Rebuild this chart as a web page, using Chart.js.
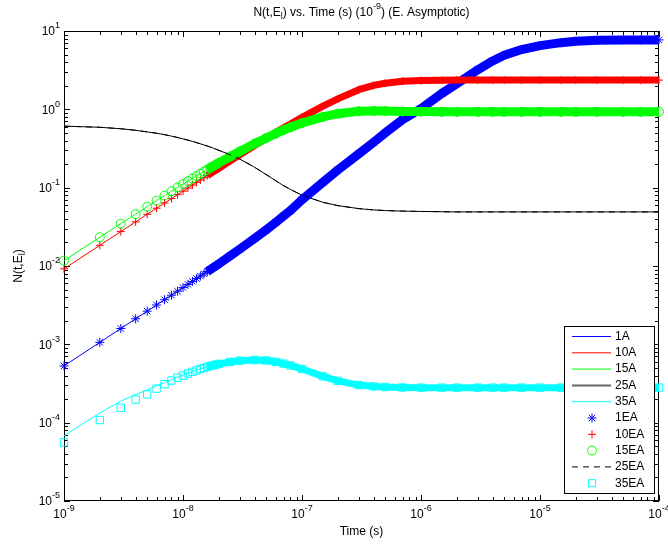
<!DOCTYPE html>
<html>
<head>
<meta charset="utf-8">
<script src="https://cdn.jsdelivr.net/npm/chart.js@4.4.0/dist/chart.umd.min.js"></script>
<style>
  html, body { margin: 0; padding: 0; background: #fff; overflow: hidden; }
</style>
</head>
<body>
<canvas id="chart" width="668" height="545"></canvas>
<script>
// sample times (ns) and N(t,E) values
const timeNs = [1, 2, 3, 4, 5, 6, 7, 8, 9, 10, 11, 12, 13, 14, 15, 16, 17, 18, 19, 20,
  25, 30, 40, 50, 60, 70, 80, 100,
  150, 200, 300, 400, 500, 700, 1000,
  1500, 2000, 3000, 4000, 5000, 7000, 10000, 15000, 20000, 30000, 50000, 70000, 100000];

const n1A = [5.3e-4, 1.06e-3, 1.59e-3, 2.12e-3, 2.65e-3, 3.18e-3, 3.71e-3, 4.24e-3, 4.77e-3, 5.3e-3,
  5.83e-3, 6.36e-3, 6.9e-3, 7.43e-3, 7.96e-3, 8.5e-3, 9.03e-3, 9.57e-3, 1.01e-2, 1.065e-2,
  1.35e-2, 1.64e-2, 2.25e-2, 2.9e-2, 3.6e-2, 4.35e-2, 5.1e-2, 7.0e-2,
  0.117, 0.168, 0.27, 0.38, 0.5, 0.74, 1.02,
  1.6, 2.12, 3.2, 4.15, 4.9, 5.8, 6.5, 7.1, 7.4, 7.6, 7.7, 7.7, 7.7];

const n10A = [9.2e-3, 1.84e-2, 2.75e-2, 3.66e-2, 4.57e-2, 5.47e-2, 6.37e-2, 7.26e-2, 8.15e-2, 9.03e-2,
  9.9e-2, 0.108, 0.117, 0.125, 0.134, 0.143, 0.151, 0.16, 0.168, 0.177,
  0.22, 0.262, 0.345, 0.425, 0.505, 0.58, 0.65, 0.79,
  1.1, 1.36, 1.78, 2.02, 2.15, 2.28, 2.33,
  2.35, 2.36, 2.36, 2.36, 2.36, 2.36, 2.36, 2.36, 2.36, 2.36, 2.36, 2.36, 2.36];

const n15A = [1.17e-2, 2.33e-2, 3.47e-2, 4.6e-2, 5.72e-2, 6.83e-2, 7.92e-2, 9.0e-2, 0.1005, 0.111,
  0.121, 0.131, 0.141, 0.151, 0.161, 0.17, 0.18, 0.189, 0.198, 0.207,
  0.25, 0.29, 0.365, 0.43, 0.49, 0.545, 0.59, 0.67,
  0.8, 0.88, 0.945, 0.955, 0.95, 0.94, 0.935,
  0.93, 0.93, 0.93, 0.93, 0.93, 0.93, 0.93, 0.93, 0.93, 0.93, 0.93, 0.93, 0.93];

const n25A = [0.61, 0.59, 0.565, 0.54, 0.515, 0.495, 0.475, 0.455, 0.437, 0.42,
  0.404, 0.39, 0.376, 0.363, 0.351, 0.34, 0.329, 0.319, 0.309, 0.3,
  0.262, 0.232, 0.182, 0.147, 0.123, 0.106, 0.095, 0.08,
  0.065, 0.059, 0.054, 0.052, 0.051, 0.0502, 0.0497,
  0.0493, 0.049, 0.049, 0.049, 0.049, 0.049, 0.049, 0.049, 0.049, 0.049, 0.049, 0.049, 0.049];

const n35A = [6.8e-5, 1.33e-4, 1.88e-4, 2.28e-4, 2.62e-4, 2.95e-4, 3.25e-4, 3.55e-4, 3.8e-4, 4.05e-4,
  4.28e-4, 4.48e-4, 4.68e-4, 4.86e-4, 5.02e-4, 5.17e-4, 5.3e-4, 5.42e-4, 5.53e-4, 5.63e-4,
  5.98e-4, 6.18e-4, 6.3e-4, 6.22e-4, 5.98e-4, 5.68e-4, 5.38e-4, 4.85e-4,
  3.9e-4, 3.42e-4, 3.02e-4, 2.9e-4, 2.85e-4, 2.81e-4, 2.8e-4,
  2.8e-4, 2.8e-4, 2.8e-4, 2.8e-4, 2.8e-4, 2.8e-4, 2.8e-4, 2.8e-4, 2.8e-4, 2.8e-4, 2.8e-4, 2.8e-4, 2.8e-4];

// asymptotic series sit on top of the exact ones except 35 at early times
const n1EA = n1A;
const n10EA = n10A;
const n15EA = n15A;
const n25EA = n25A;
const n35EA = [5.6e-5, 1.08e-4, 1.55e-4, 1.97e-4, 2.3e-4, 2.72e-4, 3.1e-4, 3.45e-4, 3.75e-4, 4.0e-4,
  4.25e-4, 4.45e-4, 4.65e-4, 4.84e-4, 5.0e-4, 5.15e-4, 5.28e-4, 5.4e-4, 5.52e-4, 5.62e-4,
  5.98e-4, 6.18e-4, 6.3e-4, 6.22e-4, 5.98e-4, 5.68e-4, 5.38e-4, 4.85e-4,
  3.9e-4, 3.42e-4, 3.02e-4, 2.9e-4, 2.85e-4, 2.81e-4, 2.8e-4,
  2.8e-4, 2.8e-4, 2.8e-4, 2.8e-4, 2.8e-4, 2.8e-4, 2.8e-4, 2.8e-4, 2.8e-4, 2.8e-4, 2.8e-4, 2.8e-4, 2.8e-4];

const xTickExp = [-9, -8, -7, -6, -5, -4];
const yTickExp = [-5, -4, -3, -2, -1, 0, 1];
const seriesNames = ['1A', '10A', '15A', '25A', '35A', '1EA', '10EA', '15EA', '25EA', '35EA'];

const BLUE = '#0000ff', RED = '#ff0000', GREEN = '#00ff00', BLACK = '#000000', CYAN = '#00ffff';
const FONT = '"Liberation Sans", Arial, Helvetica, sans-serif';

const times = timeNs.map(v => v * 1e-9);
const pts = arr => arr.map((v, i) => ({ x: times[i], y: v }));

// markers merge into a solid band once they sit closer than their size
const BAND_FROM = 16e-9;

function lineSet(i, data, color, extra) {
  return Object.assign({
    label: seriesNames[i], data: pts(data), borderColor: color, borderWidth: 1,
    pointRadius: 0, fill: false, tension: 0, clip: false, order: -i
  }, extra || {});
}

function markerSet(i, data, color, style, radius, band) {
  return {
    label: seriesNames[i], data: pts(data), showLine: true,
    borderColor: color, borderWidth: band, borderJoinStyle: 'round', borderCapStyle: 'butt',
    segment: { borderColor: c => times[c.p0DataIndex] >= BAND_FROM ? color : 'rgba(0,0,0,0)' },
    pointStyle: style, pointRadius: radius, pointBorderColor: color,
    pointBackgroundColor: 'rgba(0,0,0,0)', pointBorderWidth: 1,
    fill: false, tension: 0, clip: false, order: -i
  };
}

function rich(ctx, parts, x, y, align) {
  let w = 0;
  for (const p of parts) { ctx.font = p.size + 'px ' + FONT; w += ctx.measureText(p.t).width; }
  let cx = align === 'center' ? x - w / 2 : align === 'right' ? x - w : x;
  ctx.textAlign = 'left';
  ctx.textBaseline = 'middle';
  for (const p of parts) {
    ctx.font = p.size + 'px ' + FONT;
    ctx.fillText(p.t, cx, y + (p.dy || 0));
    cx += ctx.measureText(p.t).width;
  }
}

const pow10 = e => [{ t: '10', size: 12 }, { t: String(e), size: 9, dy: -6 }];

function marker(ctx, style, x, y, r) {
  ctx.beginPath();
  if (style === 'star' || style === 'cross') {
    ctx.moveTo(x - r, y); ctx.lineTo(x + r, y);
    ctx.moveTo(x, y - r); ctx.lineTo(x, y + r);
    if (style === 'star') {
      const d = r * Math.SQRT1_2;
      ctx.moveTo(x - d, y - d); ctx.lineTo(x + d, y + d);
      ctx.moveTo(x - d, y + d); ctx.lineTo(x + d, y - d);
    }
  } else if (style === 'circle') {
    ctx.arc(x, y, r, 0, Math.PI * 2);
  } else if (style === 'rect') {
    const s = r * Math.SQRT1_2;
    ctx.rect(x - s, y - s, 2 * s, 2 * s);
  }
  ctx.stroke();
}

const legendItems = [
  { color: BLUE, width: 1 }, { color: RED, width: 1 }, { color: GREEN, width: 1 },
  { color: '#666', width: 2 }, { color: CYAN, width: 1 },
  { color: BLUE, style: 'star', r: 4.5 }, { color: RED, style: 'cross', r: 4 },
  { color: GREEN, style: 'circle', r: 4.5 }, { color: BLACK, width: 1, dash: [6, 5] },
  { color: CYAN, style: 'rect', r: 5 }
];

const matlabLook = {
  id: 'matlabLook',
  beforeDraw(chart) {
    const ctx = chart.ctx;
    ctx.save();
    ctx.fillStyle = '#fff';
    ctx.fillRect(0, 0, chart.width, chart.height);
    ctx.restore();
  },
  beforeDatasetsDraw(chart) {
    const ctx = chart.ctx;
    const { left, right, top, bottom } = chart.chartArea;
    const xs = chart.scales.x, ys = chart.scales.y;
    ctx.save();
    ctx.strokeStyle = '#000';
    ctx.lineWidth = 1;
    ctx.strokeRect(left + 0.5, top + 0.5, right - left - 1, bottom - top - 1);
    ctx.beginPath();
    for (const e of xTickExp) {
      for (let m = 1; m <= 9; m++) {
        const v = m * Math.pow(10, e);
        if (v > xs.max * 1.001) break;
        const px = Math.round(xs.getPixelForValue(v)) + 0.5;
        const len = m === 1 ? 6 : 4;
        ctx.moveTo(px, bottom); ctx.lineTo(px, bottom - len);
        ctx.moveTo(px, top); ctx.lineTo(px, top + len);
      }
    }
    for (const e of yTickExp) {
      for (let m = 1; m <= 9; m++) {
        const v = m * Math.pow(10, e);
        if (v > ys.max * 1.001) break;
        const py = Math.round(ys.getPixelForValue(v)) + 0.5;
        const len = m === 1 ? 6 : 4;
        ctx.moveTo(left, py); ctx.lineTo(left + len, py);
        ctx.moveTo(right, py); ctx.lineTo(right - len, py);
      }
    }
    ctx.stroke();
    ctx.restore();
  },
  afterDatasetsDraw(chart) {
    const ctx = chart.ctx;
    const bx = 564.5, by = 326.5, bw = 90, bh = 167, row = 16.3;
    ctx.save();
    ctx.fillStyle = '#fff';
    ctx.fillRect(bx, by, bw, bh);
    ctx.strokeStyle = '#000';
    ctx.lineWidth = 1;
    ctx.strokeRect(bx, by, bw, bh);
    legendItems.forEach((it, i) => {
      const y = by + 10 + i * row;
      ctx.strokeStyle = it.color;
      if (it.style) {
        ctx.lineWidth = 1;
        ctx.setLineDash([]);
        marker(ctx, it.style, 592, y, it.r);
      } else {
        ctx.lineWidth = it.width;
        ctx.setLineDash(it.dash || []);
        ctx.beginPath();
        ctx.moveTo(572, y); ctx.lineTo(it.dash ? 614 : 611, y);
        ctx.stroke();
        ctx.setLineDash([]);
      }
      ctx.fillStyle = '#000';
      rich(ctx, [{ t: seriesNames[i], size: 12 }], 615, y, 'left');
    });
    ctx.restore();
  },
  afterDraw(chart) {
    const ctx = chart.ctx;
    const { left, right, top, bottom } = chart.chartArea;
    const xs = chart.scales.x, ys = chart.scales.y;
    ctx.save();
    ctx.fillStyle = '#000';
    for (const e of xTickExp) {
      rich(ctx, pow10(e), xs.getPixelForValue(Math.pow(10, e)), bottom + 14, 'center');
    }
    for (const e of yTickExp) {
      rich(ctx, pow10(e), left - 4, ys.getPixelForValue(Math.pow(10, e)) + 1, 'right');
    }
    rich(ctx, [{ t: 'Time (s)', size: 12 }], (left + right) / 2, bottom + 31, 'center');
    rich(ctx, [
      { t: 'N(t,E', size: 12 }, { t: 'l', size: 9, dy: 4 },
      { t: ') vs. Time (s) (10', size: 12 }, { t: '-9', size: 9, dy: -6 },
      { t: ') (E. Asymptotic)', size: 12 }
    ], (left + right) / 2, top - 18, 'center');
    ctx.translate(19, (top + bottom) / 2);
    ctx.rotate(-Math.PI / 2);
    rich(ctx, [{ t: 'N(t,E', size: 12 }, { t: 'l', size: 9, dy: 4 }, { t: ')', size: 12 }], 0, 0, 'center');
    ctx.restore();
  }
};

new Chart(document.getElementById('chart'), {
  type: 'line',
  data: {
    datasets: [
      lineSet(0, n1A, BLUE),
      lineSet(1, n10A, RED),
      lineSet(2, n15A, GREEN),
      lineSet(3, n25A, BLACK),
      lineSet(4, n35A, CYAN),
      markerSet(5, n1EA, BLUE, 'star', 4.5, 9),
      markerSet(6, n10EA, RED, 'cross', 4, 7),
      markerSet(7, n15EA, GREEN, 'circle', 4.5, 9),
      lineSet(8, n25EA, BLACK, { borderDash: [6, 5] }),
      markerSet(9, n35EA, CYAN, 'rect', 5.2, 7)
    ]
  },
  options: {
    responsive: false,
    animation: false,
    devicePixelRatio: 1,
    events: [],
    layout: { padding: { left: 64, right: 9, top: 31, bottom: 44 } },
    scales: {
      x: { type: 'logarithmic', min: 1e-9, max: 1e-4, display: false },
      y: { type: 'logarithmic', min: 1e-5, max: 10, display: false }
    },
    plugins: { legend: { display: false }, title: { display: false }, tooltip: { enabled: false } }
  },
  plugins: [matlabLook]
});
</script>
</body>
</html>
